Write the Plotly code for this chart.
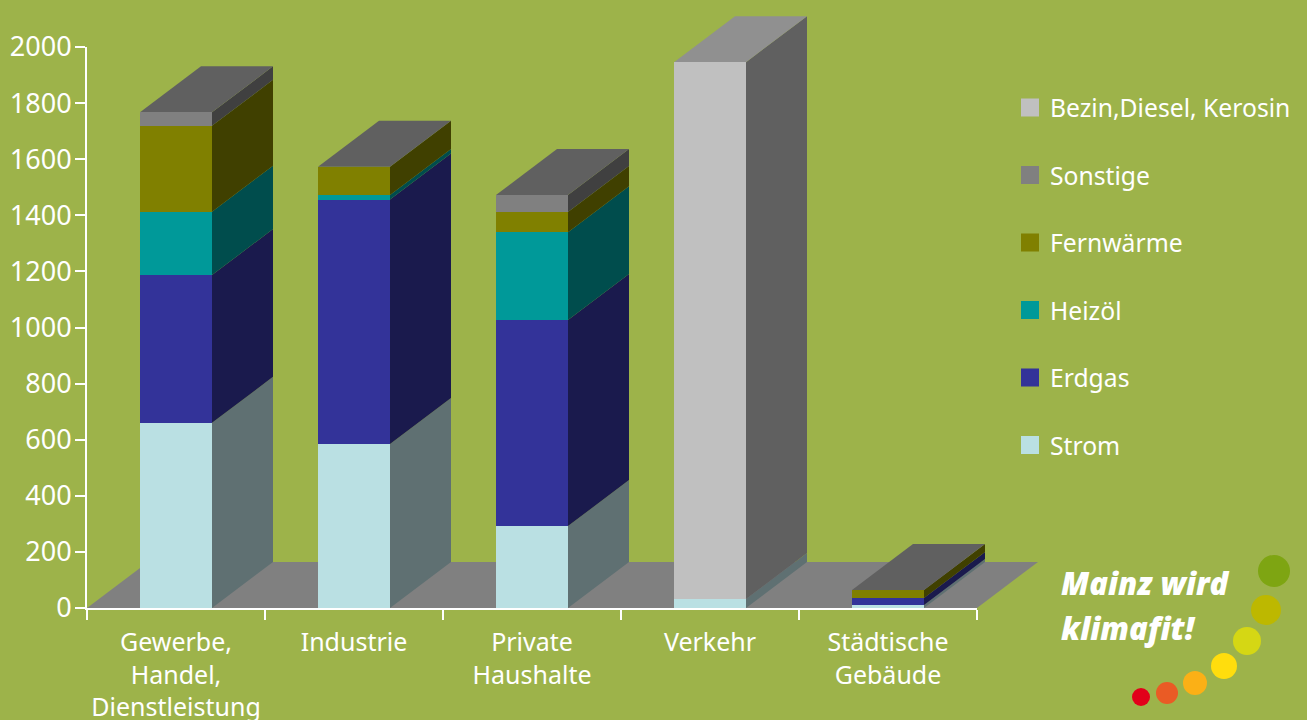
import plotly.graph_objects as go

categories = ["Gewerbe,<br>Handel,<br>Dienstleistung", "Industrie", "Private<br>Haushalte", "Verkehr", "Städtische<br>Gebäude"]
strom = [660, 585, 292, 32, 11]
erdgas = [527, 871, 735, 0, 25]
heizoel = [226, 16, 313, 0, 0]
fernwaerme = [306, 101, 72, 0, 28]
sonstige = [48, 0, 60, 0, 0]
benzin = [0, 0, 0, 1914, 0]
y_ticks = [0, 200, 400, 600, 800, 1000, 1200, 1400, 1600, 1800, 2000]
top_colors = ["#606060", "#606060", "#606060", "#909090", "#606060"]

series = [
    ("Strom", strom, "#bae0e3", "#5f7072"),
    ("Erdgas", erdgas, "#333399", "#1a1a4d"),
    ("Heizöl", heizoel, "#009999", "#004d4d"),
    ("Fernwärme", fernwaerme, "#808000", "#404000"),
    ("Sonstige", sonstige, "#808080", "#404040"),
    ("Bezin,Diesel, Kerosin", benzin, "#c0c0c0", "#606060"),
]

W, H = 1307, 720
L, R, T, B = 87, 977, 47, 608
BG = "#9db34a"
FONT = "Noto Sans"
FS = 25
px_x = (R - L) / 5
px_y = (B - T) / 2000
DX = 61 / px_x
DY = 46 / px_y
BW = 72 / px_x

fig = go.Figure()

# Back layer: floor and 3D faces on a full-canvas subplot with the same scale
fig.add_trace(go.Scatter(
    x=[-0.5, 4.5, 4.5 + DX, -0.5 + DX, -0.5], y=[0, 0, DY, DY, 0],
    mode="lines", fill="toself", fillcolor="#808080", line=dict(width=0),
    showlegend=False, hoverinfo="skip", xaxis="x", yaxis="y"))

base = [0] * len(categories)
for name, vals, col, side in series:
    xs, ys = [], []
    for i, v in enumerate(vals):
        if v <= 0:
            continue
        xr = i + BW / 2
        y0, y1 = base[i], base[i] + v
        xs += [xr, xr + DX, xr + DX, xr, xr, None]
        ys += [y0, y0 + DY, y1 + DY, y1, y0, None]
        base[i] = y1
    fig.add_trace(go.Scatter(x=xs, y=ys, mode="lines", fill="toself", fillcolor=side,
                             line=dict(width=0), showlegend=False, hoverinfo="skip",
                             xaxis="x", yaxis="y"))

for i, t in enumerate(base):
    xl, xr = i - BW / 2, i + BW / 2
    fig.add_trace(go.Scatter(x=[xl, xr, xr + DX, xl + DX, xl], y=[t, t, t + DY, t + DY, t],
                             mode="lines", fill="toself", fillcolor=top_colors[i],
                             line=dict(width=0), showlegend=False, hoverinfo="skip",
                             xaxis="x", yaxis="y"))

# Front faces
for name, vals, col, side in series:
    fig.add_trace(go.Bar(x=categories, y=vals, name=name, marker=dict(color=col, line=dict(width=0)),
                         showlegend=False, xaxis="x2", yaxis="y2"))

# Legend entries
for name, vals, col, side in reversed(series):
    fig.add_trace(go.Scatter(x=[None], y=[None], mode="markers", name=name, legendgroup=name,
                             marker=dict(symbol="square", size=16, color=col, line=dict(color=col, width=2)),
                             xaxis="x", yaxis="y"))

# Logo dots
dots = [(1141, 697, 9, "#e2001a"), (1167, 693, 11, "#ea5b25"), (1195, 683, 12, "#fbb016"),
        (1224, 666, 13, "#ffdd0d"), (1247, 641, 14, "#d5d714"), (1266, 610, 15, "#bdb800"),
        (1274, 571, 16, "#7ea512")]
shapes = [dict(type="circle", xref="paper", yref="paper", line=dict(width=0), fillcolor=c,
               x0=(x - r) / W, x1=(x + r) / W, y0=1 - (y + r) / H, y1=1 - (y - r) / H)
          for x, y, r, c in dots]

annotations = [
    dict(text="Mainz wird", x=1059 / W, y=1 - 583 / H),
    dict(text="klimafit!", x=1059 / W, y=1 - 628 / H),
]
for a in annotations:
    a.update(xref="paper", yref="paper", xanchor="left", yanchor="middle", showarrow=False,
             font=dict(family="Open Sans", size=31, color="white", weight=800, style="italic"))

fig.update_layout(
    width=W, height=H, margin=dict(l=0, r=0, t=0, b=0, autoexpand=False),
    paper_bgcolor=BG, plot_bgcolor="rgba(0,0,0,0)",
    barmode="stack", bargap=1 - BW,
    font=dict(family=FONT, size=FS, color="white"),
    showlegend=True,
    legend=dict(x=1010 / W, y=1 - 85 / H, xanchor="left", yanchor="top", bgcolor="rgba(0,0,0,0)",
                traceorder="grouped", tracegroupgap=32.4, font=dict(family=FONT, size=24.7, color="white"),
                itemclick=False, itemdoubleclick=False),
    shapes=shapes, annotations=annotations,
    xaxis=dict(domain=[0, 1], visible=False, fixedrange=True,
               range=[-0.5 - L / px_x, -0.5 + (W - L) / px_x]),
    yaxis=dict(domain=[0, 1], visible=False, fixedrange=True,
               range=[-(H - B) / px_y, B / px_y]),
    xaxis2=dict(domain=[L / W, R / W], anchor="y2", type="category", tickson="boundaries",
                categoryorder="array", categoryarray=categories,
                showline=True, linecolor="white", linewidth=2, ticks="outside", ticklen=10,
                tickwidth=2, tickcolor="white", showgrid=False, zeroline=False, fixedrange=True,
                ticklabelstandoff=11,
                tickfont=dict(family=FONT, size=FS, color="white"), tickangle=0),
    yaxis2=dict(domain=[1 - B / H, 1 - T / H], anchor="x2", range=[0, 2000], tickvals=y_ticks,
                showline=True, linecolor="white", linewidth=2, ticks="outside", ticklen=10,
                tickwidth=2, tickcolor="white", showgrid=False, zeroline=False, fixedrange=True,
                ticklabelstandoff=-2,
                tickfont=dict(family=FONT, size=27, color="white")),
)

fig.write_html("out.html", config=dict(displayModeBar=False),
               post_script="document.body.style.margin='0';document.body.style.overflow='hidden';")
